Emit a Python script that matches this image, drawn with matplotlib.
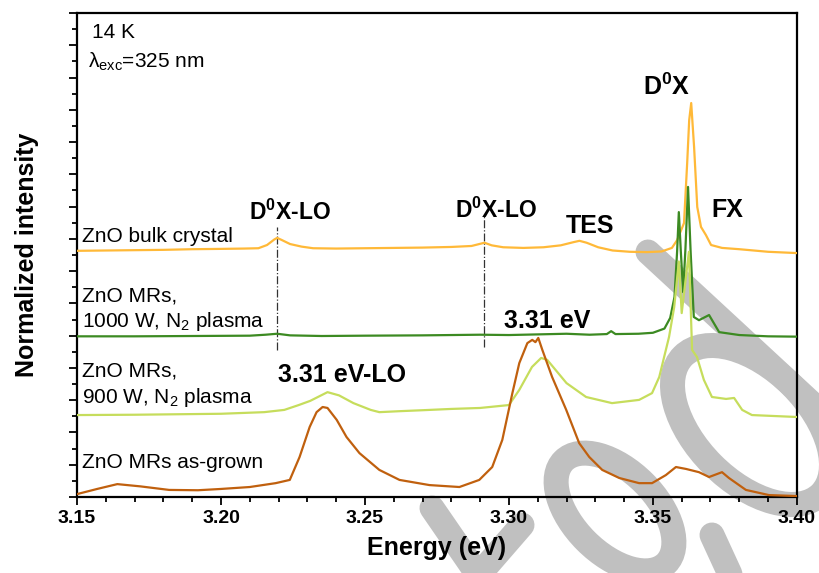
import matplotlib
matplotlib.use('Agg')
import matplotlib.pyplot as plt
from matplotlib.patches import Ellipse
from matplotlib.lines import Line2D
from matplotlib.ticker import MultipleLocator
import matplotlib.transforms as mtransforms

plt.rcParams['font.family'] = ['Liberation Sans', 'DejaVu Sans']
plt.rcParams['mathtext.fontset'] = 'custom'
plt.rcParams['mathtext.rm'] = 'Liberation Sans'
plt.rcParams['mathtext.it'] = 'Liberation Sans:italic'
plt.rcParams['mathtext.bf'] = 'Liberation Sans:bold'

# spectra (energy in eV, normalized intensity without offset)
e_bulk = [3.150, 3.160, 3.170, 3.180, 3.190, 3.200, 3.208, 3.213, 3.216, 3.2185,
          3.2195, 3.221, 3.224, 3.228, 3.232, 3.240, 3.250, 3.260, 3.270, 3.280,
          3.287, 3.2915, 3.294, 3.298, 3.305, 3.312, 3.318, 3.3225, 3.3245, 3.327,
          3.331, 3.336, 3.342, 3.348, 3.353, 3.3566, 3.3584, 3.3608, 3.3619, 3.3626,
          3.3633, 3.3643, 3.3654, 3.3667, 3.3684, 3.3702, 3.374, 3.380, 3.390, 3.400]
i_bulk = [0.13, 0.14, 0.15, 0.16, 0.18, 0.19, 0.20, 0.21, 0.31, 0.48,
          0.53, 0.47, 0.34, 0.26, 0.21, 0.20, 0.21, 0.22, 0.23, 0.25,
          0.28, 0.38, 0.30, 0.24, 0.22, 0.24, 0.30, 0.40, 0.44, 0.38,
          0.24, 0.14, 0.10, 0.09, 0.11, 0.22, 0.46, 0.99, 2.85, 4.18,
          4.71, 3.35, 1.49, 0.87, 0.62, 0.31, 0.22, 0.18, 0.10, 0.06]

e_1000 = [3.150, 3.170, 3.190, 3.210, 3.2155, 3.2195, 3.224, 3.235, 3.250, 3.270,
          3.290, 3.300, 3.310, 3.320, 3.328, 3.334, 3.3355, 3.337, 3.345, 3.350,
          3.3540, 3.3560, 3.3575, 3.3584, 3.3590, 3.3597, 3.3605, 3.3613, 3.3622, 3.3631,
          3.3642, 3.3660, 3.3695, 3.3730, 3.380, 3.390, 3.400]
i_1000 = [-0.02, -0.02, -0.01, 0.00, 0.03, 0.06, 0.01, -0.01, 0.00, 0.01,
          0.03, 0.02, 0.04, 0.06, 0.03, 0.05, 0.14, 0.05, 0.06, 0.09,
          0.22, 0.55, 1.20, 2.60, 3.83, 2.60, 1.35, 2.70, 4.61, 2.60,
          0.58, 0.48, 0.64, 0.11, 0.02, -0.02, -0.03]

e_900 = [3.150, 3.170, 3.190, 3.200, 3.215, 3.222, 3.227, 3.231, 3.237, 3.241,
         3.246, 3.252, 3.255, 3.262, 3.270, 3.280, 3.290, 3.300, 3.3036, 3.308,
         3.3112, 3.3133, 3.320, 3.3268, 3.3358, 3.3452, 3.3497, 3.3522, 3.3556, 3.3574,
         3.3590, 3.3600, 3.3625, 3.3636, 3.3653, 3.3677, 3.3705, 3.3754, 3.3782, 3.381,
         3.3844, 3.400]
i_900 = [0.04, 0.05, 0.07, 0.08, 0.13, 0.20, 0.35, 0.48, 0.75, 0.65,
         0.41, 0.20, 0.13, 0.16, 0.19, 0.23, 0.26, 0.35, 0.82, 1.53,
         1.81, 1.75, 1.03, 0.60, 0.41, 0.51, 0.72, 1.22, 2.46, 3.39,
         4.80, 3.20, 5.10, 2.06, 1.84, 1.13, 0.60, 0.54, 0.57, 0.20,
         0.04, -0.02]

e_grown = [3.150, 3.157, 3.164, 3.172, 3.182, 3.192, 3.200, 3.210, 3.219, 3.2239,
           3.2273, 3.2308, 3.2332, 3.2353, 3.237, 3.2402, 3.2436, 3.2481, 3.255, 3.262,
           3.2724, 3.2828, 3.2897, 3.2942, 3.2977, 3.3012, 3.3036, 3.3064, 3.3081, 3.3092,
           3.3102, 3.3116, 3.315, 3.3199, 3.3244, 3.3279, 3.3324, 3.3383, 3.3452, 3.3497,
           3.3545, 3.358, 3.3615, 3.366, 3.3695, 3.374, 3.3764, 3.3823, 3.3903, 3.400]
i_grown = [0.09, 0.25, 0.40, 0.33, 0.22, 0.21, 0.25, 0.31, 0.43, 0.53,
           1.24, 2.17, 2.63, 2.79, 2.76, 2.39, 1.86, 1.36, 0.84, 0.53,
           0.37, 0.31, 0.53, 0.93, 1.77, 3.22, 4.15, 4.77, 4.87, 4.80,
           4.93, 4.56, 3.72, 2.70, 1.67, 1.24, 0.84, 0.59, 0.43, 0.43,
           0.68, 0.93, 0.87, 0.77, 0.62, 0.77, 0.59, 0.22, 0.06, 0.03]

offsets = [7.5, 5.0, 2.5, 0.0]
colors = ['#FFB938', '#3C8A22', '#C6DD5C', '#C0600E']

# dash-dot markers for the D0X-LO replicas
vline_e = [3.2195, 3.2915]
vline_top = [8.37, 8.74]
vline_bot = [4.56, 4.65]

fig = plt.figure(figsize=(8.19, 5.73), dpi=100)
fig.patch.set_facecolor('white')
ax = fig.add_axes([0.094, 0.1326, 0.879, 0.8447])
ax.set_facecolor('none')

# grey watermark strokes behind the plot (pixel coords, y down)
px = mtransforms.Affine2D().scale(1, -1).translate(0, 573)
wm = '#c0c0c0'
fig.add_artist(Line2D([648, 835], [252, 425], transform=px, color=wm, lw=18,
                      solid_capstyle='round', zorder=-5))
fig.add_artist(Ellipse((752, 425), 195, 112, angle=45, transform=px, fill=False,
                       ec=wm, lw=18, zorder=-5))
fig.add_artist(Ellipse((615, 512), 145, 82, angle=45, transform=px, fill=False,
                       ec=wm, lw=18, zorder=-5))
fig.add_artist(Line2D([432, 485], [508, 585], transform=px, color=wm, lw=18,
                      solid_capstyle='round', zorder=-5))
fig.add_artist(Line2D([522, 470], [525, 585], transform=px, color=wm, lw=18,
                      solid_capstyle='round', zorder=-5))
fig.add_artist(Line2D([712, 735], [535, 585], transform=px, color=wm, lw=18,
                      solid_capstyle='round', zorder=-5))

series = [(e_bulk, i_bulk), (e_1000, i_1000), (e_900, i_900), (e_grown, i_grown)]
order = [3, 2, 0, 1]
for k in order:
    e, i = series[k]
    ax.plot(e, [v + offsets[k] for v in i], color=colors[k], lw=1.6, zorder=3 + k * 0.1)

for e, t, b in zip(vline_e, vline_top, vline_bot):
    ax.plot([e, e], [b, t], color='#333333', lw=0.9, ls='-.', zorder=2)

ax.set_xlim(3.15, 3.40)
ax.set_ylim(0, 15)
ax.xaxis.set_major_locator(MultipleLocator(0.05))
ax.xaxis.set_minor_locator(MultipleLocator(0.01))
ax.yaxis.set_major_locator(MultipleLocator(1))
ax.yaxis.set_minor_locator(MultipleLocator(0.5))
ax.set_yticklabels([])
ax.xaxis.set_major_formatter(matplotlib.ticker.FormatStrFormatter('%.2f'))
ax.tick_params(axis='both', which='major', direction='out', length=6, width=1.3)
ax.tick_params(axis='both', which='minor', direction='out', length=3.5, width=1.3)
ax.tick_params(top=False, right=False)
for lab in ax.get_xticklabels():
    lab.set_fontweight('bold')
    lab.set_fontsize(14)
for s in ax.spines.values():
    s.set_linewidth(1.6)

ax.set_xlabel('Energy (eV)', fontsize=18, fontweight='bold', labelpad=6)
ax.set_ylabel('Normalized intensity', fontsize=18, fontweight='bold', labelpad=18)

# annotations
ax.text(3.1552, 14.22, '14 K', fontsize=15)
ax.text(3.1538, 13.32, r'λ$_\mathregular{exc}$=325 nm', fontsize=15)

ax.text(3.1517, 7.90, 'ZnO bulk crystal', fontsize=15)
ax.text(3.1517, 6.07, 'ZnO MRs,', fontsize=15)
ax.text(3.1517, 5.27, r'1000 W, N$_\mathregular{2}$ plasma', fontsize=15)
ax.text(3.1517, 3.72, 'ZnO MRs,', fontsize=15)
ax.text(3.1517, 2.91, r'900 W, N$_\mathregular{2}$ plasma', fontsize=15)
ax.text(3.1517, 0.90, 'ZnO MRs as-grown', fontsize=15)

bold = dict(fontweight='bold', ha='center')
ax.text(3.2239, 8.58, r'D$^\mathbf{0}$X-LO', fontsize=16.5, **bold)
ax.text(3.2956, 8.65, r'D$^\mathbf{0}$X-LO', fontsize=16.5, **bold)
ax.text(3.3282, 8.18, 'TES', fontsize=18, **bold)
ax.text(3.3133, 5.24, '3.31 eV', fontsize=18, **bold)
ax.text(3.2422, 3.56, '3.31 eV-LO', fontsize=18, **bold)
ax.text(3.3546, 12.46, r'D$^\mathbf{0}$X', fontsize=18, **bold)
ax.text(3.3757, 8.68, 'FX', fontsize=18, **bold)

fig.savefig('out.png', dpi=100)
